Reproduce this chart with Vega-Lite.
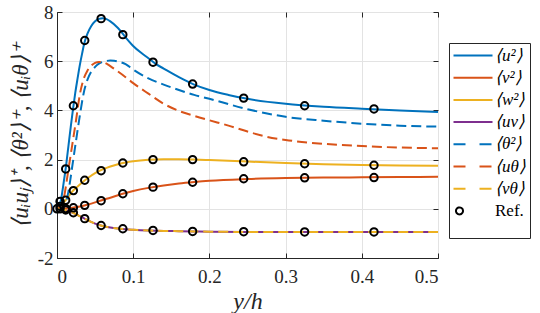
{
  "$schema": "https://vega.github.io/schema/vega-lite/v6.json",
  "width": 381,
  "height": 246,
  "autosize": {"type": "none"},
  "padding": {"left": 57, "top": 12, "right": 102, "bottom": 55},
  "background": "white",
  "config": {
    "view": {"stroke": "#262626", "strokeWidth": 1},
    "axis": {
      "labelFont": "Liberation Serif, serif", "labelFontSize": 19, "labelColor": "#262626",
      "tickColor": "#262626", "tickSize": -5, "domainColor": "#262626",
      "gridColor": "#e3e3e3", "titleFont": "Liberation Serif, serif", "titleFontStyle": "italic",
      "titleFontWeight": "normal", "titleColor": "#262626", "labelPadding": 9
    }
  },
  "datasets": {
    "curves": [
      {"s":"⟨u²⟩","x":0,"y":0},{"s":"⟨u²⟩","x":0.003,"y":0.1},{"s":"⟨u²⟩","x":0.006,"y":0.5},{"s":"⟨u²⟩","x":0.009,"y":1.12},{"s":"⟨u²⟩","x":0.012,"y":1.78},{"s":"⟨u²⟩","x":0.015,"y":2.55},{"s":"⟨u²⟩","x":0.018,"y":3.32},{"s":"⟨u²⟩","x":0.021,"y":4.05},{"s":"⟨u²⟩","x":0.024,"y":4.72},{"s":"⟨u²⟩","x":0.027,"y":5.3},{"s":"⟨u²⟩","x":0.03,"y":5.85},{"s":"⟨u²⟩","x":0.033,"y":6.32},{"s":"⟨u²⟩","x":0.036,"y":6.75},{"s":"⟨u²⟩","x":0.04,"y":7.12},{"s":"⟨u²⟩","x":0.045,"y":7.43},{"s":"⟨u²⟩","x":0.05,"y":7.62},{"s":"⟨u²⟩","x":0.055,"y":7.72},{"s":"⟨u²⟩","x":0.06,"y":7.75},{"s":"⟨u²⟩","x":0.065,"y":7.71},{"s":"⟨u²⟩","x":0.07,"y":7.62},{"s":"⟨u²⟩","x":0.08,"y":7.35},{"s":"⟨u²⟩","x":0.09,"y":6.97},{"s":"⟨u²⟩","x":0.1,"y":6.62},{"s":"⟨u²⟩","x":0.11,"y":6.35},{"s":"⟨u²⟩","x":0.12,"y":6.12},{"s":"⟨u²⟩","x":0.13,"y":5.88},{"s":"⟨u²⟩","x":0.14,"y":5.7},{"s":"⟨u²⟩","x":0.16,"y":5.35},{"s":"⟨u²⟩","x":0.18,"y":5.05},{"s":"⟨u²⟩","x":0.2,"y":4.83},{"s":"⟨u²⟩","x":0.225,"y":4.63},{"s":"⟨u²⟩","x":0.25,"y":4.47},{"s":"⟨u²⟩","x":0.3,"y":4.27},{"s":"⟨u²⟩","x":0.35,"y":4.15},{"s":"⟨u²⟩","x":0.4,"y":4.07},{"s":"⟨u²⟩","x":0.45,"y":4.0},{"s":"⟨u²⟩","x":0.5,"y":3.94},
      {"s":"⟨v²⟩","x":0,"y":0},{"s":"⟨v²⟩","x":0.01,"y":0.01},{"s":"⟨v²⟩","x":0.02,"y":0.04},{"s":"⟨v²⟩","x":0.03,"y":0.09},{"s":"⟨v²⟩","x":0.04,"y":0.17},{"s":"⟨v²⟩","x":0.05,"y":0.26},{"s":"⟨v²⟩","x":0.06,"y":0.36},{"s":"⟨v²⟩","x":0.07,"y":0.45},{"s":"⟨v²⟩","x":0.08,"y":0.55},{"s":"⟨v²⟩","x":0.09,"y":0.64},{"s":"⟨v²⟩","x":0.1,"y":0.72},{"s":"⟨v²⟩","x":0.12,"y":0.85},{"s":"⟨v²⟩","x":0.14,"y":0.95},{"s":"⟨v²⟩","x":0.16,"y":1.03},{"s":"⟨v²⟩","x":0.18,"y":1.09},{"s":"⟨v²⟩","x":0.2,"y":1.14},{"s":"⟨v²⟩","x":0.25,"y":1.21},{"s":"⟨v²⟩","x":0.3,"y":1.25},{"s":"⟨v²⟩","x":0.35,"y":1.27},{"s":"⟨v²⟩","x":0.4,"y":1.28},{"s":"⟨v²⟩","x":0.45,"y":1.29},{"s":"⟨v²⟩","x":0.5,"y":1.3},
      {"s":"⟨w²⟩","x":0,"y":0},{"s":"⟨w²⟩","x":0.005,"y":0.14},{"s":"⟨w²⟩","x":0.01,"y":0.3},{"s":"⟨w²⟩","x":0.015,"y":0.5},{"s":"⟨w²⟩","x":0.02,"y":0.7},{"s":"⟨w²⟩","x":0.025,"y":0.85},{"s":"⟨w²⟩","x":0.03,"y":0.99},{"s":"⟨w²⟩","x":0.04,"y":1.24},{"s":"⟨w²⟩","x":0.05,"y":1.45},{"s":"⟨w²⟩","x":0.06,"y":1.6},{"s":"⟨w²⟩","x":0.07,"y":1.72},{"s":"⟨w²⟩","x":0.08,"y":1.81},{"s":"⟨w²⟩","x":0.09,"y":1.88},{"s":"⟨w²⟩","x":0.1,"y":1.93},{"s":"⟨w²⟩","x":0.12,"y":1.99},{"s":"⟨w²⟩","x":0.14,"y":2.01},{"s":"⟨w²⟩","x":0.16,"y":2.01},{"s":"⟨w²⟩","x":0.18,"y":2.0},{"s":"⟨w²⟩","x":0.2,"y":1.98},{"s":"⟨w²⟩","x":0.25,"y":1.92},{"s":"⟨w²⟩","x":0.3,"y":1.86},{"s":"⟨w²⟩","x":0.35,"y":1.81},{"s":"⟨w²⟩","x":0.4,"y":1.78},{"s":"⟨w²⟩","x":0.45,"y":1.76},{"s":"⟨w²⟩","x":0.5,"y":1.75},
      {"s":"⟨uv⟩","x":0,"y":0},{"s":"⟨uv⟩","x":0.005,"y":-0.01},{"s":"⟨uv⟩","x":0.01,"y":-0.04},{"s":"⟨uv⟩","x":0.015,"y":-0.09},{"s":"⟨uv⟩","x":0.02,"y":-0.15},{"s":"⟨uv⟩","x":0.025,"y":-0.22},{"s":"⟨uv⟩","x":0.03,"y":-0.3},{"s":"⟨uv⟩","x":0.035,"y":-0.38},{"s":"⟨uv⟩","x":0.04,"y":-0.46},{"s":"⟨uv⟩","x":0.05,"y":-0.6},{"s":"⟨uv⟩","x":0.06,"y":-0.7},{"s":"⟨uv⟩","x":0.07,"y":-0.76},{"s":"⟨uv⟩","x":0.08,"y":-0.8},{"s":"⟨uv⟩","x":0.09,"y":-0.83},{"s":"⟨uv⟩","x":0.1,"y":-0.85},{"s":"⟨uv⟩","x":0.12,"y":-0.88},{"s":"⟨uv⟩","x":0.14,"y":-0.9},{"s":"⟨uv⟩","x":0.16,"y":-0.91},{"s":"⟨uv⟩","x":0.18,"y":-0.92},{"s":"⟨uv⟩","x":0.2,"y":-0.93},{"s":"⟨uv⟩","x":0.25,"y":-0.94},{"s":"⟨uv⟩","x":0.3,"y":-0.94},{"s":"⟨uv⟩","x":0.4,"y":-0.94},{"s":"⟨uv⟩","x":0.5,"y":-0.94}
    ],
    "dashed": [
      {"s":"⟨θ²⟩","x":0,"y":0},{"s":"⟨θ²⟩","x":0.005,"y":0.03},{"s":"⟨θ²⟩","x":0.01,"y":0.15},{"s":"⟨θ²⟩","x":0.0125,"y":0.35},{"s":"⟨θ²⟩","x":0.015,"y":0.7},{"s":"⟨θ²⟩","x":0.0175,"y":1.19},{"s":"⟨θ²⟩","x":0.02,"y":1.72},{"s":"⟨θ²⟩","x":0.025,"y":2.77},{"s":"⟨θ²⟩","x":0.03,"y":3.8},{"s":"⟨θ²⟩","x":0.035,"y":4.7},{"s":"⟨θ²⟩","x":0.04,"y":5.25},{"s":"⟨θ²⟩","x":0.045,"y":5.58},{"s":"⟨θ²⟩","x":0.05,"y":5.77},{"s":"⟨θ²⟩","x":0.055,"y":5.9},{"s":"⟨θ²⟩","x":0.06,"y":5.97},{"s":"⟨θ²⟩","x":0.065,"y":6.01},{"s":"⟨θ²⟩","x":0.07,"y":6.03},{"s":"⟨θ²⟩","x":0.075,"y":6.02},{"s":"⟨θ²⟩","x":0.08,"y":5.99},{"s":"⟨θ²⟩","x":0.09,"y":5.88},{"s":"⟨θ²⟩","x":0.1,"y":5.66},{"s":"⟨θ²⟩","x":0.12,"y":5.3},{"s":"⟨θ²⟩","x":0.14,"y":5.05},{"s":"⟨θ²⟩","x":0.16,"y":4.83},{"s":"⟨θ²⟩","x":0.18,"y":4.63},{"s":"⟨θ²⟩","x":0.2,"y":4.47},{"s":"⟨θ²⟩","x":0.25,"y":4.05},{"s":"⟨θ²⟩","x":0.3,"y":3.74},{"s":"⟨θ²⟩","x":0.35,"y":3.58},{"s":"⟨θ²⟩","x":0.4,"y":3.46},{"s":"⟨θ²⟩","x":0.45,"y":3.38},{"s":"⟨θ²⟩","x":0.5,"y":3.34},
      {"s":"⟨uθ⟩","x":0,"y":0},{"s":"⟨uθ⟩","x":0.005,"y":0.12},{"s":"⟨uθ⟩","x":0.01,"y":0.6},{"s":"⟨uθ⟩","x":0.013,"y":1.19},{"s":"⟨uθ⟩","x":0.015,"y":1.6},{"s":"⟨uθ⟩","x":0.02,"y":2.6},{"s":"⟨uθ⟩","x":0.025,"y":3.6},{"s":"⟨uθ⟩","x":0.03,"y":4.65},{"s":"⟨uθ⟩","x":0.035,"y":5.28},{"s":"⟨uθ⟩","x":0.04,"y":5.62},{"s":"⟨uθ⟩","x":0.045,"y":5.82},{"s":"⟨uθ⟩","x":0.05,"y":5.93},{"s":"⟨uθ⟩","x":0.055,"y":5.97},{"s":"⟨uθ⟩","x":0.06,"y":5.96},{"s":"⟨uθ⟩","x":0.065,"y":5.9},{"s":"⟨uθ⟩","x":0.07,"y":5.8},{"s":"⟨uθ⟩","x":0.08,"y":5.58},{"s":"⟨uθ⟩","x":0.09,"y":5.35},{"s":"⟨uθ⟩","x":0.1,"y":5.11},{"s":"⟨uθ⟩","x":0.12,"y":4.68},{"s":"⟨uθ⟩","x":0.14,"y":4.27},{"s":"⟨uθ⟩","x":0.16,"y":3.98},{"s":"⟨uθ⟩","x":0.18,"y":3.78},{"s":"⟨uθ⟩","x":0.2,"y":3.6},{"s":"⟨uθ⟩","x":0.225,"y":3.38},{"s":"⟨uθ⟩","x":0.25,"y":3.14},{"s":"⟨uθ⟩","x":0.275,"y":2.93},{"s":"⟨uθ⟩","x":0.3,"y":2.8},{"s":"⟨uθ⟩","x":0.35,"y":2.64},{"s":"⟨uθ⟩","x":0.4,"y":2.55},{"s":"⟨uθ⟩","x":0.45,"y":2.49},{"s":"⟨uθ⟩","x":0.5,"y":2.46},
      {"s":"⟨vθ⟩","x":0,"y":0},{"s":"⟨vθ⟩","x":0.005,"y":-0.01},{"s":"⟨vθ⟩","x":0.01,"y":-0.04},{"s":"⟨vθ⟩","x":0.015,"y":-0.09},{"s":"⟨vθ⟩","x":0.02,"y":-0.15},{"s":"⟨vθ⟩","x":0.025,"y":-0.22},{"s":"⟨vθ⟩","x":0.03,"y":-0.3},{"s":"⟨vθ⟩","x":0.035,"y":-0.38},{"s":"⟨vθ⟩","x":0.04,"y":-0.46},{"s":"⟨vθ⟩","x":0.05,"y":-0.6},{"s":"⟨vθ⟩","x":0.06,"y":-0.7},{"s":"⟨vθ⟩","x":0.07,"y":-0.76},{"s":"⟨vθ⟩","x":0.08,"y":-0.8},{"s":"⟨vθ⟩","x":0.09,"y":-0.83},{"s":"⟨vθ⟩","x":0.1,"y":-0.85},{"s":"⟨vθ⟩","x":0.12,"y":-0.88},{"s":"⟨vθ⟩","x":0.14,"y":-0.9},{"s":"⟨vθ⟩","x":0.16,"y":-0.91},{"s":"⟨vθ⟩","x":0.18,"y":-0.92},{"s":"⟨vθ⟩","x":0.2,"y":-0.93},{"s":"⟨vθ⟩","x":0.25,"y":-0.94},{"s":"⟨vθ⟩","x":0.3,"y":-0.94},{"s":"⟨vθ⟩","x":0.4,"y":-0.94},{"s":"⟨vθ⟩","x":0.5,"y":-0.94}
    ],
    "refs": [
      {"s":"Ref.","x":0,"y":0},{"s":"Ref.","x":0.004,"y":0.3},{"s":"Ref.","x":0.0114,"y":1.62},{"s":"Ref.","x":0.0215,"y":4.19},{"s":"Ref.","x":0.0364,"y":6.84},{"s":"Ref.","x":0.0579,"y":7.73},{"s":"Ref.","x":0.0864,"y":7.08},{"s":"Ref.","x":0.126,"y":5.96},{"s":"Ref.","x":0.178,"y":5.07},{"s":"Ref.","x":0.245,"y":4.5},{"s":"Ref.","x":0.325,"y":4.19},{"s":"Ref.","x":0.416,"y":4.06},
      {"s":"Ref.","x":0.004,"y":0},{"s":"Ref.","x":0.0114,"y":0.01},{"s":"Ref.","x":0.0215,"y":0.04},{"s":"Ref.","x":0.0364,"y":0.14},{"s":"Ref.","x":0.0579,"y":0.33},{"s":"Ref.","x":0.0864,"y":0.61},{"s":"Ref.","x":0.126,"y":0.88},{"s":"Ref.","x":0.178,"y":1.08},{"s":"Ref.","x":0.245,"y":1.22},{"s":"Ref.","x":0.325,"y":1.26},{"s":"Ref.","x":0.416,"y":1.27},
      {"s":"Ref.","x":0.004,"y":0.1},{"s":"Ref.","x":0.0114,"y":0.35},{"s":"Ref.","x":0.0215,"y":0.74},{"s":"Ref.","x":0.0364,"y":1.16},{"s":"Ref.","x":0.0579,"y":1.55},{"s":"Ref.","x":0.0864,"y":1.86},{"s":"Ref.","x":0.126,"y":2.0},{"s":"Ref.","x":0.178,"y":2.0},{"s":"Ref.","x":0.245,"y":1.91},{"s":"Ref.","x":0.325,"y":1.83},{"s":"Ref.","x":0.416,"y":1.77},
      {"s":"Ref.","x":0.0114,"y":-0.05},{"s":"Ref.","x":0.0215,"y":-0.16},{"s":"Ref.","x":0.0364,"y":-0.4},{"s":"Ref.","x":0.0579,"y":-0.68},{"s":"Ref.","x":0.0864,"y":-0.81},{"s":"Ref.","x":0.126,"y":-0.88},{"s":"Ref.","x":0.178,"y":-0.92},{"s":"Ref.","x":0.245,"y":-0.93},{"s":"Ref.","x":0.325,"y":-0.94},{"s":"Ref.","x":0.416,"y":-0.94}
    ]
  },
  "resolve": {"axis": {"x": "independent", "y": "independent"}},
  "layer": [
    {
      "data": {"name": "curves"},
      "mark": {"type": "line", "strokeWidth": 2, "interpolate": "monotone"},
      "encoding": {
        "x": {"field": "x", "type": "quantitative", "scale": {"domain": [0, 0.5], "nice": false},
          "axis": {"values": [0, 0.1, 0.2, 0.3, 0.4, 0.5], "format": ".1~f", "title": "y/h", "labelPadding": 14,
            "labelFont": "Liberation Serif, serif", "titleFont": "Liberation Serif, serif", "titleFontSize": 24, "titlePadding": 3, "grid": true}},
        "y": {"field": "y", "type": "quantitative", "scale": {"domain": [-2, 8], "nice": false, "zero": false},
          "axis": {"values": [-2, 0, 2, 4, 6, 8], "labelExpr": "datum.value < 0 ? '-' + format(-datum.value, 'd') : format(datum.value, 'd')",
            "labelFont": "Liberation Serif, serif", "titleFont": "Liberation Serif, serif",
            "title": "⟨uᵢuⱼ⟩⁺,  ⟨θ²⟩⁺,  ⟨uᵢθ⟩⁺", "titleFontSize": 23, "titlePadding": 5, "grid": true}},
        "color": {"field": "s", "type": "nominal",
          "scale": {"domain": ["⟨u²⟩", "⟨v²⟩", "⟨w²⟩", "⟨uv⟩", "⟨θ²⟩", "⟨uθ⟩", "⟨vθ⟩", "Ref."],
                    "range": ["#0072BD", "#D95319", "#EDB120", "#7E2F8E", "#0072BD", "#D95319", "#EDB120", "#000000"]},
          "legend": {
            "title": " ", "titleOrient": "bottom", "titleFontSize": 15, "titlePadding": 0,
            "orient": "none", "legendX": 392, "legendY": 31,
            "strokeColor": "#262626", "padding": 4, "fillColor": "white",
            "labelFont": "Liberation Serif, serif", "labelFontSize": 17, "labelColor": "#000000",
            "rowPadding": 4.2, "symbolType": "circle", "symbolSize": 100, "symbolStrokeWidth": 2, "labelOffset": 25,
            "encode": {
              "symbols": {"update": {
                "shape": {"signal": "datum.label === 'Ref.' ? 'M-1.1,0A0.7,0.7 0 1,0 0.3,0A0.7,0.7 0 1,0 -1.1,0' : 'M-1.6,0H6.2'"},
                "strokeDash": {"signal": "indexof(['⟨θ²⟩','⟨uθ⟩','⟨vθ⟩'], datum.label) >= 0 ? [12,14] : [1,0]"},
                "fill": {"value": "transparent"}
              }},
              "labels": {"update": {
                "fontStyle": {"signal": "datum.label === 'Ref.' ? 'normal' : 'italic'"}
              }}
            }
          }
        }
      }
    },
    {
      "data": {"name": "dashed"},
      "mark": {"type": "line", "strokeWidth": 2, "interpolate": "monotone", "strokeDash": [10, 5]},
      "encoding": {
        "x": {"field": "x", "type": "quantitative", "scale": {"domain": [0, 0.5], "nice": false},
          "axis": {"orient": "top", "values": [0, 0.1, 0.2, 0.3, 0.4, 0.5], "labels": false, "title": null, "grid": false, "domain": false}},
        "y": {"field": "y", "type": "quantitative", "scale": {"domain": [-2, 8], "nice": false, "zero": false},
          "axis": {"orient": "right", "values": [-2, 0, 2, 4, 6, 8], "labels": false, "title": null, "grid": false, "domain": false}},
        "color": {"field": "s", "type": "nominal"}
      }
    },
    {
      "data": {"name": "refs"},
      "mark": {"type": "point", "shape": "circle", "filled": false, "size": 55, "strokeWidth": 2, "opacity": 1},
      "encoding": {
        "x": {"field": "x", "type": "quantitative", "axis": null},
        "y": {"field": "y", "type": "quantitative", "axis": null},
        "color": {"field": "s", "type": "nominal"}
      }
    }
  ]
}
